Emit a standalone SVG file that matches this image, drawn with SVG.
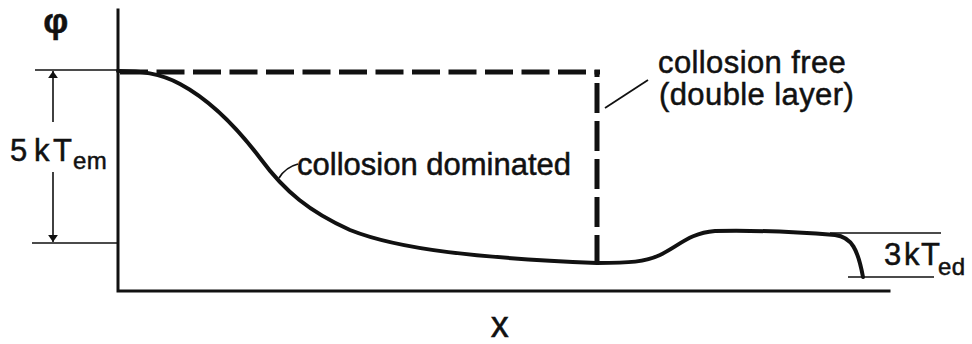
<svg xmlns="http://www.w3.org/2000/svg" width="972" height="344" viewBox="0 0 972 344">
<defs>
<style>
.axis{fill:none;stroke:#111;stroke-width:3;stroke-linecap:square}
.tick{fill:none;stroke:#111;stroke-width:1.6}
.curve{fill:none;stroke:#111;stroke-width:4;stroke-linecap:round;stroke-linejoin:round}
.dash{fill:none;stroke:#111;stroke-width:5}
.lead{fill:none;stroke:#111;stroke-width:1.8}
.lbl{font-family:"Liberation Sans","DejaVu Sans",sans-serif;font-size:31px;fill:#111;stroke:#111;stroke-width:0.5;letter-spacing:0.4px}
.sub{font-size:24px}
</style>
<marker id="ah" viewBox="0 0 10 20" refX="10" refY="10" markerWidth="7" markerHeight="14" markerUnits="userSpaceOnUse" orient="auto">
<path d="M0,3 L10,10 L0,17 Z" fill="#111"/>
</marker>
</defs>
<rect width="972" height="344" fill="#fff"/>
<g id="axes">
<path class="axis" d="M118,10 L118,291 L889,291"/>
<text class="lbl" x="56" y="33" text-anchor="middle" style="font-size:35px;font-weight:bold">φ</text>
<text class="lbl" x="500" y="337" text-anchor="middle" style="font-size:36px">x</text>
</g>
<g id="em-dimension">
<path class="tick" d="M35,70 L118,70 M32,243 L118,243 M848,277 L934,277 M830,233 L941,233"/>
<text class="lbl" y="161"><tspan x="10">5</tspan><tspan x="34">k</tspan><tspan x="53">T</tspan><tspan class="sub" x="73" dy="8">em</tspan></text>
<text class="lbl" y="265"><tspan x="884">3</tspan><tspan x="904">k</tspan><tspan x="921">T</tspan><tspan class="sub" x="938" dy="10">ed</tspan></text>
</g>
<g id="connectors">
<path class="tick" d="M53,122 L53,71" marker-end="url(#ah)"/>
<path class="tick" d="M53,172 L53,242" marker-end="url(#ah)"/>
<path class="dash" d="M120,72 L600,72" stroke-dasharray="28 8.5"/>
<path class="dash" d="M597,70 L597,77 M597,83 L597,263" stroke-dasharray="30 8"/>
<path class="curve" d="M118,71 C140,71 160,73 180,84 C210,100 235,125 260,158 C285,192 310,212 350,230 C400,250 480,258 597,263 C630,263 645,262 660,255 C680,245 690,233 715,231 C760,230 810,233 835,235 C852,237 858,250 863,277"/>
<path class="lead" d="M279,178 C284,170 290,166 298,164"/>
<path class="lead" d="M605,108 L648,80"/>
</g>
<g id="labels">
<text class="lbl" x="297" y="175" style="letter-spacing:0">collosion dominated</text>
<text class="lbl" x="658" y="73">collosion free</text>
<text class="lbl" x="659" y="105">(double layer)</text>
</g>
</svg>
